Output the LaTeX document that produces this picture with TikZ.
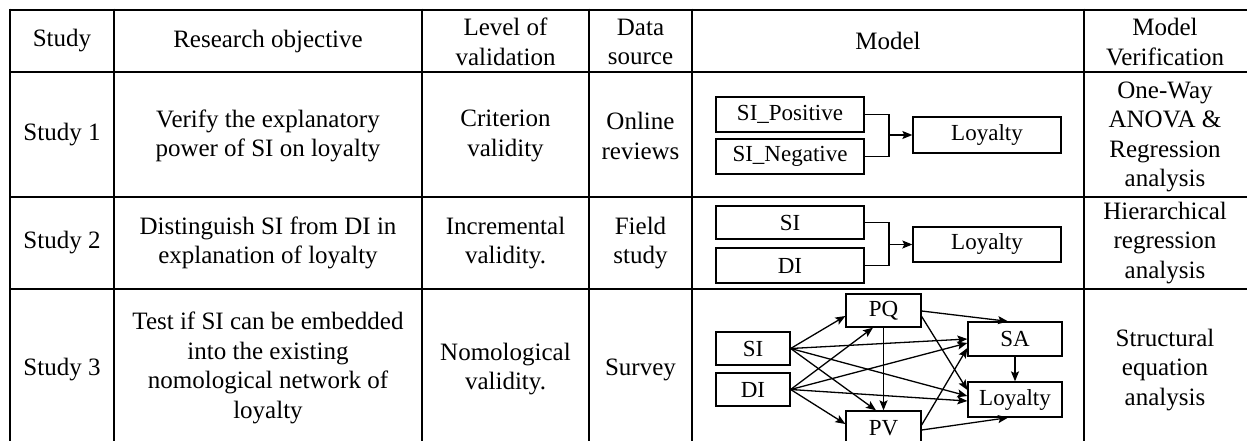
\documentclass[tikz,border=0pt]{standalone}
\usepackage{fontspec}
\setmainfont{Liberation Serif}
\usetikzlibrary{arrows.meta,calc}
\begin{document}
\begin{tikzpicture}[x=1pt,y=-1pt,
  txt/.style={align=center,font=\fontsize{25}{29.5}\selectfont,inner sep=0pt},
  box/.style={draw,line width=1.3pt,inner sep=0pt,font=\fontsize{23}{27}\selectfont},
  gridline/.style={line width=2.5pt},
  arr/.style={line width=1.3pt,-{Stealth[length=10pt,width=8pt,inset=2pt]}},
  ln/.style={line width=1.3pt}]
\useasboundingbox (0,0) rectangle (1247,441);
\fill[white] (0,0) rectangle (1247,441);
\begin{scope}
\clip (0,0) rectangle (1247,441);
% table grid
\foreach \yy in {10,72,197,289} \draw[gridline] (10,\yy) -- (1250,\yy);
\foreach \xx in {10,114,422,589,692,1084} \draw[gridline] (\xx,8.75) -- (\xx,450);

% header
\node[txt] (h1) at (62,41) {Study};
\node[txt] (h2) at (268,41) {Research objective};
\node[txt] (h3) at (505.5,42) {Level of\\validation};
\node[txt] (h4) at (640.5,42) {Data\\source};
\node[txt] (h5) at (888,41) {Model};
\node[txt] (h6) at (1165,42) {Model\\Verification};

% row 1
\node[txt] (a1) at (62,135) {Study 1};
\node[txt] (a2) at (268,136) {Verify the explanatory\\power of SI on loyalty};
\node[txt] (a3) at (505.5,136) {Criterion\\validity};
\node[txt] (a4) at (640.5,136) {Online\\reviews};
\node[txt] (a6) at (1165,137) {One-Way\\ANOVA \&\\Regression\\analysis};

% row 2
\node[txt] (b1) at (62,243) {Study 2};
\node[txt] (b2) at (268,243) {Distinguish SI from DI in\\explanation of loyalty};
\node[txt] (b3) at (505.5,243) {Incremental\\validity.};
\node[txt] (b4) at (640.5,243) {Field\\study};
\node[txt] (b6) at (1165,243) {Hierarchical\\regression\\analysis};

% row 3
\node[txt] (c1) at (62,370) {Study 3};
\node[txt] (c2) at (268,368) {Test if SI can be embedded\\into the existing\\nomological network of\\loyalty};
\node[txt] (c3) at (505.5,369) {Nomological\\validity.};
\node[txt] (c4) at (640.5,370) {Survey};
\node[txt] (c6) at (1165,370) {Structural\\equation\\analysis};

% model row 1
\node[box,minimum width=148pt,minimum height=35pt] (sip) at (790,114.5) {SI\_Positive};
\node[box,minimum width=148pt,minimum height=35pt] (sin) at (790,156.5) {SI\_Negative};
\node[box,minimum width=148pt,minimum height=36pt] (l1) at (987,135) {Loyalty};
\coordinate (j1) at (889,135);
\draw[ln] (sip.east) -| (j1) |- (sin.east);
\draw[arr] (j1) -- (l1.west);

% model row 2
\node[box,minimum width=148pt,minimum height=33pt] (si2) at (790,222.5) {SI};
\node[box,minimum width=148pt,minimum height=35pt] (di2) at (790,265.5) {DI};
\node[box,minimum width=148pt,minimum height=35pt] (l2) at (987,244.5) {Loyalty};
\coordinate (j2) at (889,244.5);
\draw[ln] (si2.east) -| (j2) |- (di2.east);
\draw[arr] (j2) -- (l2.west);

% model row 3
\node[box,minimum width=74pt,minimum height=33pt] (si3) at (753,348.5) {SI};
\node[box,minimum width=74pt,minimum height=33pt] (di3) at (753,389.5) {DI};
\node[box,minimum width=75pt,minimum height=33pt] (pq) at (883.5,310.5) {PQ};
\node[box,minimum width=75pt,minimum height=34pt] (pv) at (883.5,428) {PV};
\node[box,minimum width=94pt,minimum height=34pt] (sa) at (1015,339) {SA};
\node[box,minimum width=94pt,minimum height=35pt] (l3) at (1015,399.5) {Loyalty};

\draw[arr] (si3.east) -- ($(pq.west)+(0,5.5)$);
\draw[arr] (di3.east) -- ($(pq.south)+(-10.5,0)$);
\draw[arr] (si3.east) -- ($(pv.north)+(-7.5,0)$);
\draw[arr] (di3.east) -- ($(pv.west)+(0,-4)$);
\draw[arr] (pq.south) -- (pv.north);
\draw[arr] (si3.east) -- (sa.west);
\draw[arr] (di3.east) -- ($(sa.west)+(0,4)$);
\draw[arr] ($(pv.east)+(0,-3)$) -- ($(sa.west)+(0,9)$);
\draw[arr] (si3.east) -- ($(l3.west)+(0,-3.5)$);
\draw[arr] (di3.east) -- ($(l3.west)+(0,1.5)$);
\draw[arr] ($(pq.east)+(0,6)$) -- ($(l3.west)+(0,-9.5)$);
\draw[arr] ($(pq.east)+(0,0.5)$) -- ($(sa.north)+(-7,0)$);
\draw[arr] ($(pv.east)+(0,2)$) -- ($(l3.south)+(-7,0)$);
\draw[arr] (sa.south) -- (l3.north);
\end{scope}
\end{tikzpicture}
\end{document}
